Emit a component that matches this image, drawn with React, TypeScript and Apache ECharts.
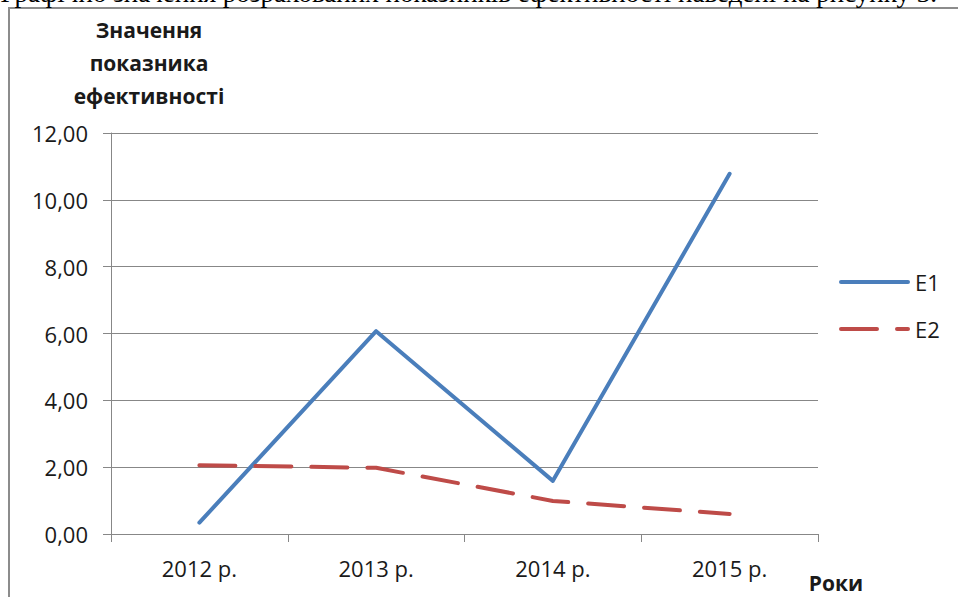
import React, { useEffect, useRef } from "react";
import * as echarts from "echarts";

// Efficiency indicators by year
const years = ["2012 р.", "2013 р.", "2014 р.", "2015 р."];
const e1Values = [0.34, 6.07, 1.59, 10.78];
const e2Values = [2.06, 1.98, 0.99, 0.6];
const seriesNames = ["E1", "E2"];
const yTitleLines = ["Значення", "показника", "ефективності"];
const xTitle = "Роки";
const captionText =
  "Графічно значення розрахованих показників ефективності наведені на рисунку 3.";

const FONT = "'Open Sans', 'Noto Sans', sans-serif";
const GRID_COLOR = "#878787";
const E1_COLOR = "#4a7ebb";
const E2_COLOR = "#be4b48";
const E2_DASH = [36, 20];

export default function App() {
  const ref = useRef<HTMLDivElement>(null);

  useEffect(() => {
    if (!ref.current) return;
    const chart = echarts.init(ref.current, null, { renderer: "svg" });

    // hand-drawn legend: a line sample and a label for each series
    const legendItems = seriesNames.flatMap((name, i) => {
      const y = 282 + i * 47;
      const color = i === 0 ? E1_COLOR : E2_COLOR;
      return [
        {
          type: "line",
          shape: { x1: 841, y1: y, x2: 908, y2: y },
          style: {
            stroke: color,
            lineWidth: 4,
            lineCap: "round",
            lineDash: i === 0 ? null : E2_DASH,
          },
        },
        {
          type: "text",
          x: 915,
          y,
          style: {
            text: name,
            font: `22px ${FONT}`,
            fill: "#1a1a1a",
            align: "left",
            verticalAlign: "middle",
          },
        },
      ];
    });

    chart.setOption({
      animation: false,
      backgroundColor: "#ffffff",
      grid: {
        left: 111,
        right: 140,
        top: 133,
        bottom: 63,
        outerBoundsMode: "none",
        containLabel: false,
      },
      xAxis: {
        type: "category",
        data: years,
        boundaryGap: true,
        axisLine: { show: true, lineStyle: { color: GRID_COLOR, width: 1 } },
        axisTick: { show: true, length: 8, alignWithLabel: false, lineStyle: { color: GRID_COLOR } },
        axisLabel: { fontFamily: FONT, fontSize: 22, color: "#1a1a1a", margin: 23 },
        splitLine: { show: false },
      },
      yAxis: {
        type: "value",
        min: 0,
        max: 12,
        interval: 2,
        axisLine: { show: true, lineStyle: { color: GRID_COLOR, width: 1 } },
        axisTick: { show: true, length: 8, lineStyle: { color: GRID_COLOR } },
        axisLabel: {
          fontFamily: FONT,
          fontSize: 22,
          color: "#1a1a1a",
          margin: 23,
          formatter: (v: number) => v.toFixed(2).replace(".", ","),
        },
        splitLine: { show: true, lineStyle: { color: GRID_COLOR, width: 1 } },
      },
      series: [
        {
          name: seriesNames[0],
          type: "line",
          data: e1Values,
          symbol: "none",
          color: E1_COLOR,
          lineStyle: { color: E1_COLOR, width: 4, cap: "round", join: "round" },
        },
        {
          name: seriesNames[1],
          type: "line",
          data: e2Values,
          symbol: "none",
          color: E2_COLOR,
          lineStyle: {
            color: E2_COLOR,
            width: 4,
            type: E2_DASH,
            cap: "round",
            join: "round",
          },
        },
      ],
      graphic: [
        {
          type: "rect",
          z: -1,
          shape: { x: 9, y: 8, width: 1200, height: 800 },
          style: { fill: "#ffffff", stroke: "#8c8c8c", lineWidth: 2 },
        },
        {
          type: "text",
          x: 937,
          y: -21,
          style: {
            text: captionText,
            font: "27px 'Liberation Serif', serif",
            fill: "#000000",
            align: "right",
            verticalAlign: "top",
          },
        },
        ...yTitleLines.map((line, i) => ({
          type: "text",
          x: 149,
          y: 30 + i * 33,
          style: {
            text: line,
            font: `bold 21px ${FONT}`,
            fill: "#1a1a1a",
            align: "center",
            verticalAlign: "middle",
          },
        })),
        {
          type: "text",
          x: 836,
          y: 583,
          style: {
            text: xTitle,
            font: `bold 21px ${FONT}`,
            fill: "#1a1a1a",
            align: "center",
            verticalAlign: "middle",
          },
        },
        ...legendItems,
      ],
    });
    return () => chart.dispose();
  }, []);

  return (
    <div
      ref={ref}
      style={{ position: "fixed", left: 0, top: 0, width: 958, height: 597, background: "#fff" }}
    />
  );
}
